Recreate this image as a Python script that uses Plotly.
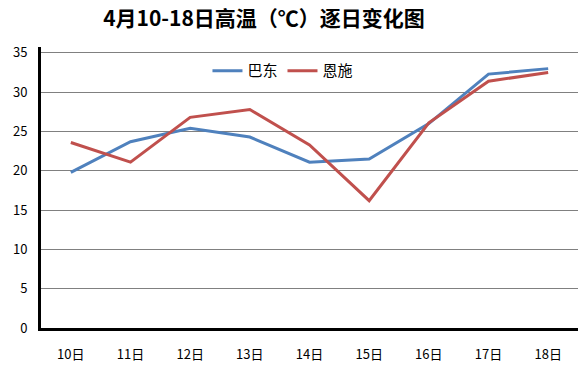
import plotly.graph_objects as go

categories = ["10日", "11日", "12日", "13日", "14日", "15日", "16日", "17日", "18日"]
badong = [19.8, 23.7, 25.4, 24.3, 21.1, 21.5, 26.0, 32.3, 33.0]
enshi = [23.6, 21.1, 26.8, 27.8, 23.3, 16.2, 26.1, 31.4, 32.5]
y_ticks = [0, 5, 10, 15, 20, 25, 30, 35]

FONT = "Noto Sans CJK SC"

fig = go.Figure()
fig.add_trace(go.Scatter(x=categories, y=badong, mode="lines", name="巴东",
                         line=dict(color="#4F81BD", width=3)))
fig.add_trace(go.Scatter(x=categories, y=enshi, mode="lines", name="恩施",
                         line=dict(color="#C0504D", width=3)))

fig.update_layout(
    width=582, height=377,
    margin=dict(l=41, r=4, t=47, b=49, autoexpand=False),
    paper_bgcolor="white", plot_bgcolor="white",
    font=dict(family=FONT, size=13, color="black"),
    title=dict(text="<b>4月10-18日高温（℃）逐日变化图</b>", x=264/582, xanchor="center",
               y=1 - 19/377, yanchor="middle", font=dict(size=21, family=FONT, color="black")),
    legend=dict(orientation="h", x=0.31, xanchor="left", y=0.915, yanchor="middle",
                font=dict(size=15, family=FONT), bgcolor="rgba(0,0,0,0)",
                itemwidth=30, tracegroupgap=0),
    showlegend=True,
)
fig.update_xaxes(type="category", range=[-0.5, 8.5], showgrid=False,
                 showline=True, linecolor="black", linewidth=3, automargin=False,
                 ticks="", tickfont=dict(size=13, family=FONT), ticklabelstandoff=12)
fig.update_yaxes(range=[0, 35.75], tickvals=y_ticks, showgrid=True, gridcolor="#808080",
                 gridwidth=1, showline=True, linecolor="black", linewidth=3, automargin=False,
                 ticks="", tickfont=dict(size=13, family=FONT), zeroline=False,
                 ticklabelstandoff=8)

fig.write_html("out.html", config={"displayModeBar": False},
               post_script="document.body.style.margin='0';")
